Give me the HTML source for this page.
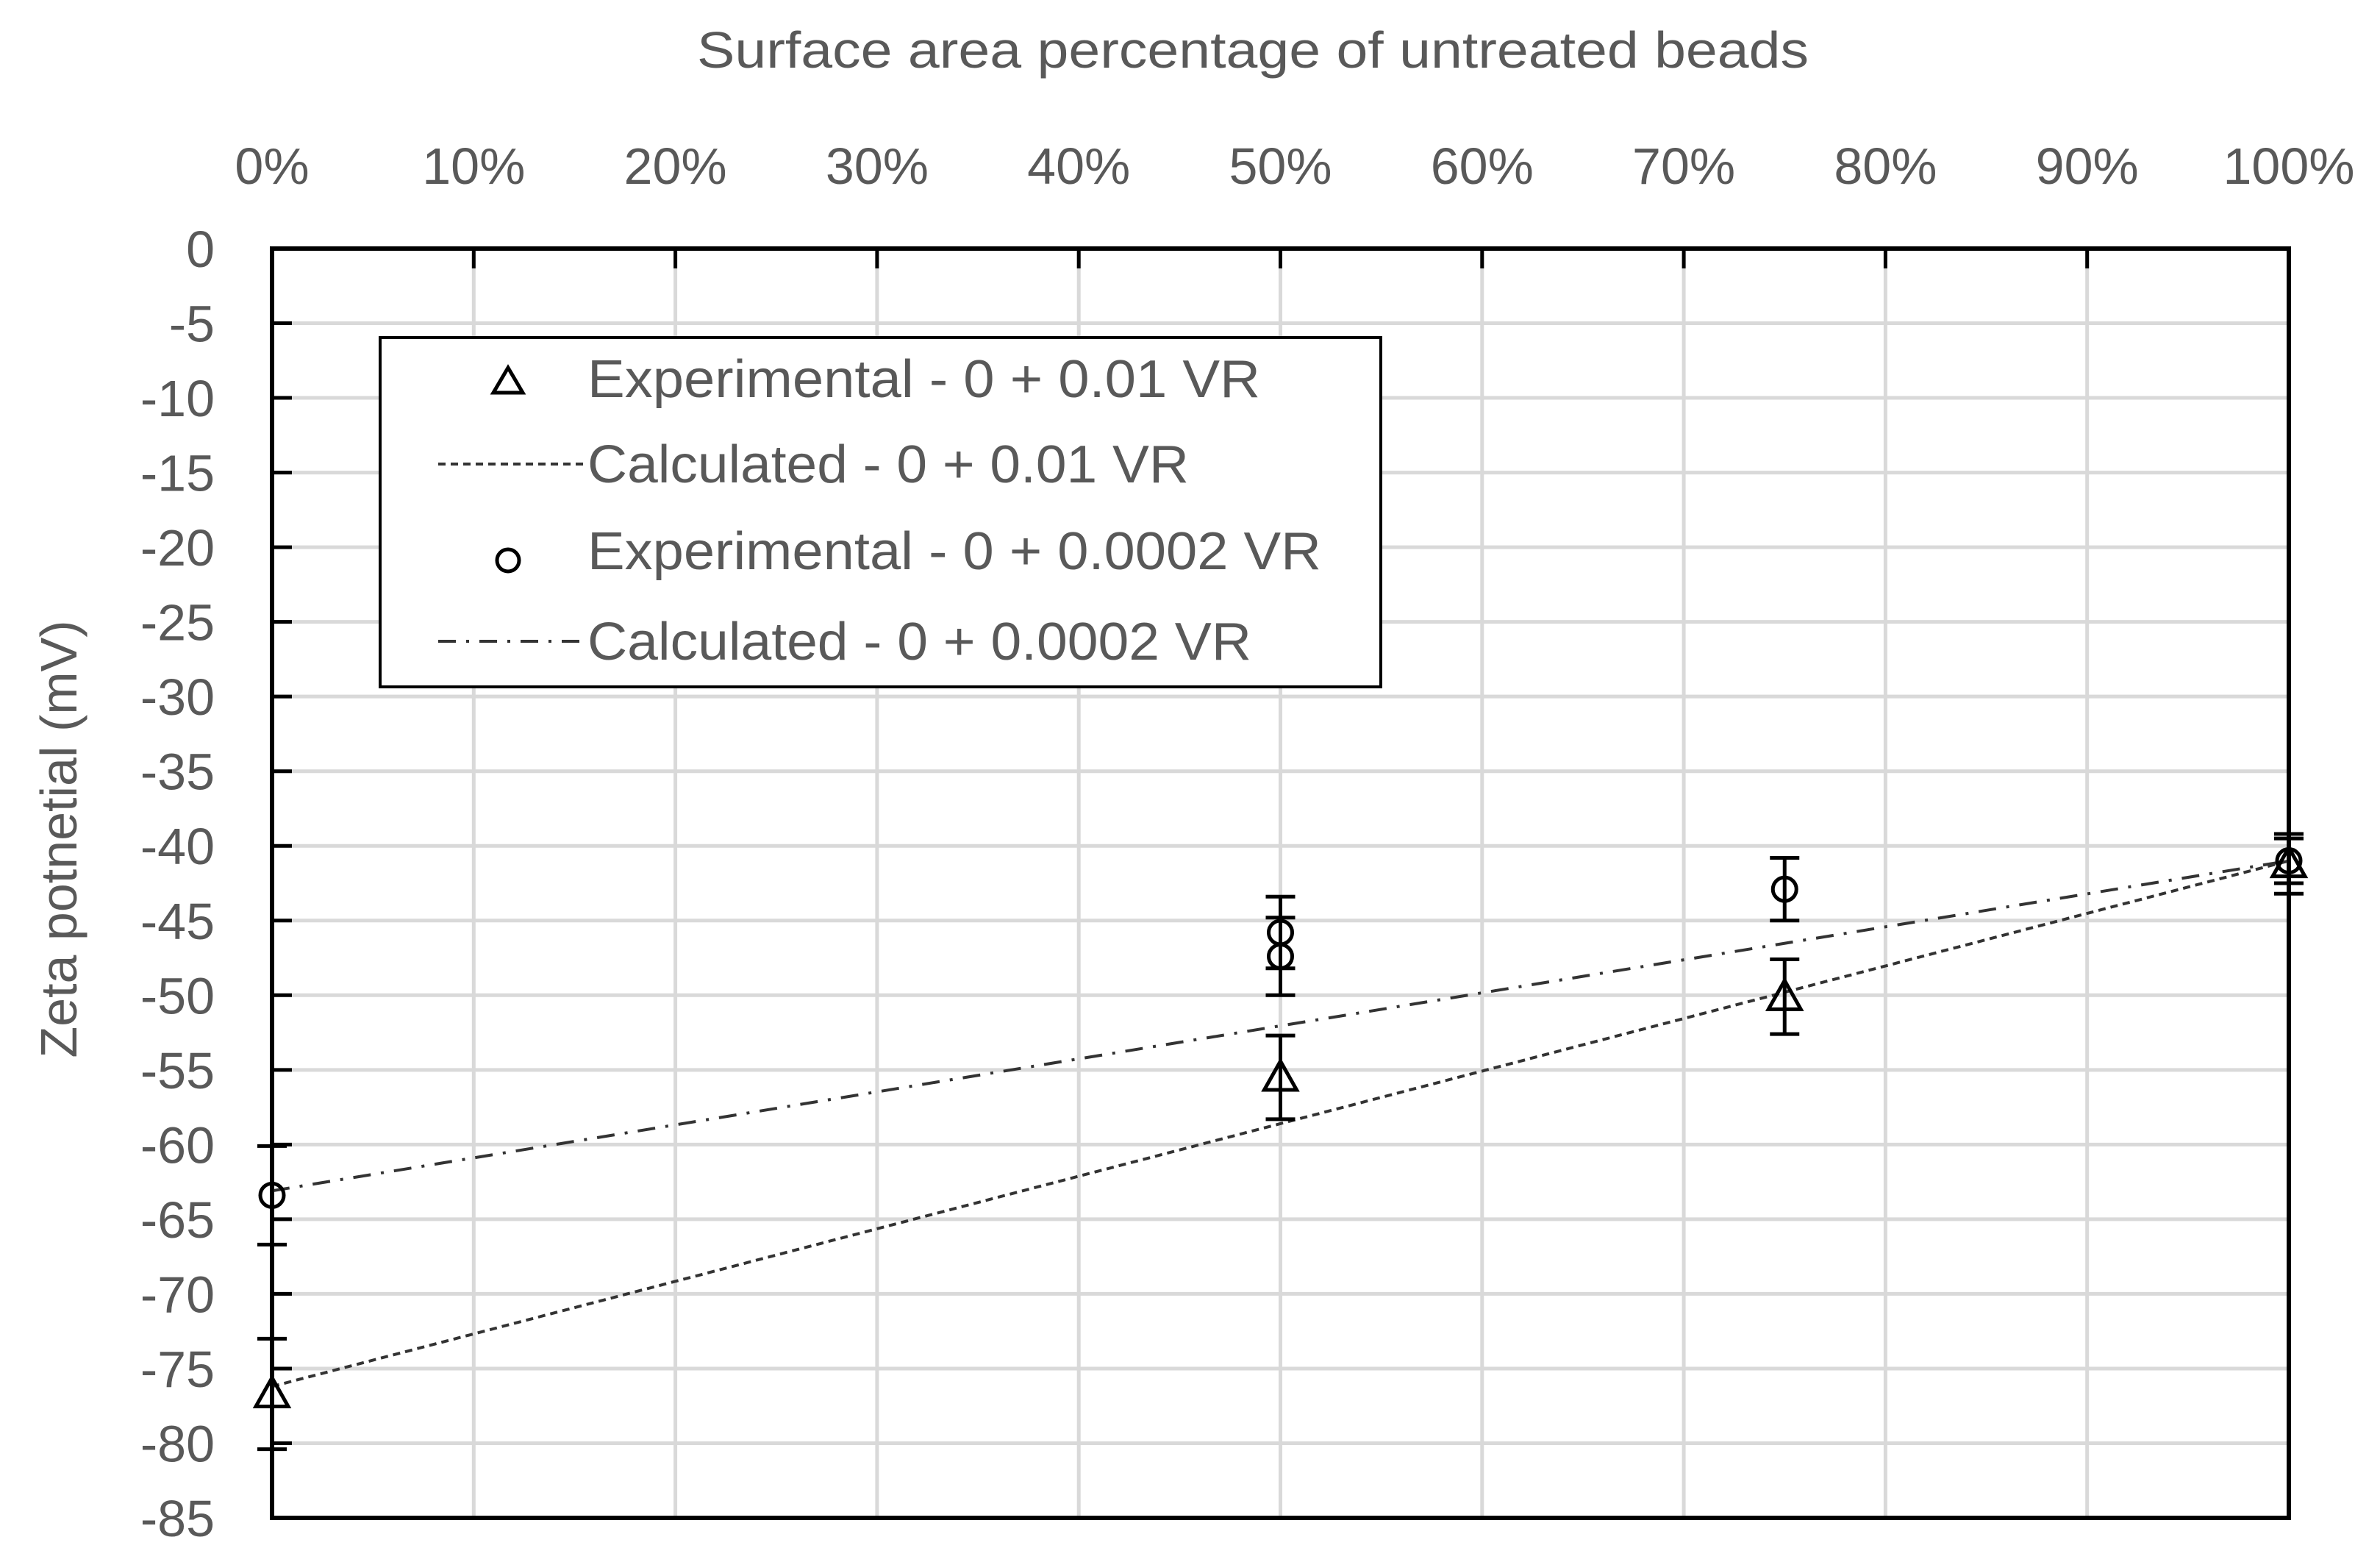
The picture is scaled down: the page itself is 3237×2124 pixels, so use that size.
<!DOCTYPE html>
<html><head><meta charset="utf-8"><style>
html,body{margin:0;padding:0;background:#fff;}
svg{display:block;font-family:"Liberation Sans",sans-serif;}
</style></head><body>
<svg id="chart" width="3237" height="2124" viewBox="0 0 3237 2124" xmlns="http://www.w3.org/2000/svg">
<g id="grid"></g>
<g id="axes"></g>
<g id="series"></g>
<text x="1704" y="92" text-anchor="middle" font-size="70" fill="#595959" textLength="1512" lengthAdjust="spacingAndGlyphs">Surface area percentage of untreated beads</text>
<text transform="translate(104,1141) rotate(-90)" text-anchor="middle" font-size="70" fill="#595959">Zeta potnetial (mV)</text>
<g>
<rect x="517" y="459" width="1361" height="475" fill="#fff" stroke="#000" stroke-width="4"/>
<polygon points="691,500 671,534 711,534" fill="none" stroke="#000" stroke-width="5"/>
<text x="799" y="540" font-size="72" fill="#595959" textLength="915" lengthAdjust="spacingAndGlyphs">Experimental - 0 + 0.01 VR</text>
<line x1="596" y1="631" x2="795" y2="631" stroke="#333" stroke-width="4" stroke-dasharray="10 7"/>
<text x="799" y="656" font-size="72" fill="#595959" textLength="818" lengthAdjust="spacingAndGlyphs">Calculated - 0 + 0.01 VR</text>
<circle cx="691" cy="762" r="15" fill="none" stroke="#000" stroke-width="5"/>
<text x="799" y="774" font-size="72" fill="#595959" textLength="998" lengthAdjust="spacingAndGlyphs">Experimental - 0 + 0.0002 VR</text>
<line x1="596" y1="872" x2="795" y2="872" stroke="#333" stroke-width="4" stroke-dasharray="24 14 4 14"/>
<text x="799" y="897" font-size="72" fill="#595959" textLength="903" lengthAdjust="spacingAndGlyphs">Calculated - 0 + 0.0002 VR</text>
</g>
</svg>
<script>
const xTicks=[0,10,20,30,40,50,60,70,80,90,100];
const yTicks=[0,-5,-10,-15,-20,-25,-30,-35,-40,-45,-50,-55,-60,-65,-70,-75,-80,-85];
const exp1X=[0,50,75,100];
const exp1Y=[-76.7,-55.5,-50.1,-41.2];
const exp1Err=[3.7,2.8,2.5,2.0];
const calc1X=[0,100];
const calc1Y=[-76.2,-41.0];
const exp2X=[0,50,50,75,100];
const exp2Y=[-63.4,-45.8,-47.4,-42.9,-41.0];
const exp2Err=[3.3,2.4,2.6,2.1,1.5];
const calc2X=[0,100];
const calc2Y=[-63.1,-41.0];

const L=370,R=3113,T=338,B=2064;
const sx=v=>L+(v-0)/100*(R-L);
const sy=v=>T+(0-v)/85*(B-T);
const NS="http://www.w3.org/2000/svg";
function mk(parent,tag,attrs){const e=document.createElementNS(NS,tag);for(const k in attrs)e.setAttribute(k,attrs[k]);parent.appendChild(e);return e;}
const grid=document.getElementById('grid'),axes=document.getElementById('axes'),ser=document.getElementById('series');

xTicks.forEach(t=>{
  const l=mk(grid,'line',{x1:sx(t),y1:T,x2:sx(t),y2:B,stroke:'#d9d9d9','stroke-width':5});
  
  
  const k=mk(axes,'line',{x1:sx(t),y1:T,x2:sx(t),y2:T+27,stroke:'#000','stroke-width':5});
  
  
  const tx=mk(axes,'text',{x:sx(t),y:250,'text-anchor':'middle','font-size':70,fill:'#595959'});
  tx.textContent=t+'%';
  
  
});
yTicks.forEach(t=>{
  const l=mk(grid,'line',{x1:L,y1:sy(t),x2:R,y2:sy(t),stroke:'#d9d9d9','stroke-width':5});
  
  
  const k=mk(axes,'line',{x1:L,y1:sy(t),x2:L+27,y2:sy(t),stroke:'#000','stroke-width':5});
  
  
  const tx=mk(axes,'text',{x:292,y:sy(t)+25,'text-anchor':'end','font-size':70,fill:'#595959'});
  tx.textContent=t;
  
  
});
const frame=mk(axes,'rect',{x:L,y:T,width:R-L,height:B-T,fill:'none',stroke:'#000','stroke-width':6});



function line(xs,ys,dash,name){
  const p=mk(ser,'polyline',{points:xs.map((x,i)=>sx(x)+','+sy(ys[i])).join(' '),fill:'none',stroke:'#333','stroke-width':4,'stroke-dasharray':dash});
  
  
}
line(calc1X,calc1Y,'10 7','calculated-001-line');
line(calc2X,calc2Y,'24 14 4 14','calculated-00002-line');

function errbar(x,y,e){
  const g=mk(ser,'g',{stroke:'#000','stroke-width':5});
  
  
  mk(g,'line',{x1:sx(x),y1:sy(y+e),x2:sx(x),y2:sy(y-e)});
  mk(g,'line',{x1:sx(x)-20,y1:sy(y+e),x2:sx(x)+20,y2:sy(y+e)});
  mk(g,'line',{x1:sx(x)-20,y1:sy(y-e),x2:sx(x)+20,y2:sy(y-e)});
}
exp1X.forEach((x,i)=>{
  errbar(x,exp1Y[i],exp1Err[i]);
  const cx=sx(x),cy=sy(exp1Y[i]);
  const p=mk(ser,'polygon',{points:`${cx},${cy-22} ${cx-22},${cy+17} ${cx+22},${cy+17}`,fill:'none',stroke:'#000','stroke-width':5});
  
  
});
exp2X.forEach((x,i)=>{
  errbar(x,exp2Y[i],exp2Err[i]);
  const c=mk(ser,'circle',{cx:sx(x),cy:sy(exp2Y[i]),r:16,fill:'none',stroke:'#000','stroke-width':5});
  
  
});
</script>
</body></html>
